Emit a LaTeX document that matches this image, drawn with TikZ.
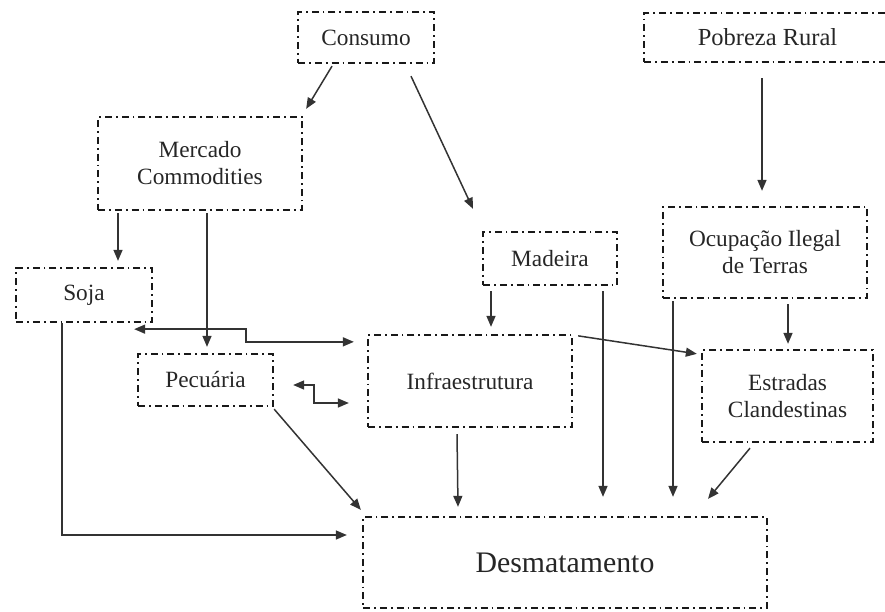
\documentclass[tikz,border=0pt]{standalone}
\usepackage{fontspec}
\setmainfont{Liberation Serif}
\usetikzlibrary{arrows.meta,calc}
\definecolor{txt}{HTML}{262626}
\definecolor{ln}{HTML}{333333}
\tikzset{
  boxnode/.style={draw=black!90, line width=2.3pt,
    dash pattern=on 7pt off 4pt on 1.8pt off 4pt,
    inner sep=0pt, align=center, text=txt,
    font=\fontsize{23.3}{27}\selectfont},
  arr/.style={draw=ln, line width=1.5pt, -{Triangle[length=11pt,width=9pt]}},
  arrtwo/.style={draw=ln, line width=1.5pt, {Triangle[length=11pt,width=9pt]}-{Triangle[length=11pt,width=9pt]}}
}
\begin{document}
\begin{tikzpicture}[x=1pt,y=-1pt]
\useasboundingbox (0,0) rectangle (885,612);
\node[boxnode, minimum width=136pt, minimum height=51pt] (cons) at (366,37.5) {Consumo};
\node[boxnode, minimum width=247pt, minimum height=49pt, font=\fontsize{24.5}{28}\selectfont] (pob) at (767.5,37.5) {Pobreza Rural};
\node[boxnode, minimum width=204pt, minimum height=93pt] (merc) at (200,163.5) {Mercado\\Commodities};
\node[boxnode, minimum width=136pt, minimum height=54pt] (soja) at (84,295) {Soja};
\node[boxnode, minimum width=135pt, minimum height=52pt] (pec) at (205.5,380) {Pecuária};
\node[boxnode, minimum width=134pt, minimum height=53pt] (mad) at (550,258.5) {Madeira};
\node[boxnode, minimum width=204pt, minimum height=91pt] (ocu) at (765,252.5) {Ocupação Ilegal\\de Terras};
\node[boxnode, minimum width=204pt, minimum height=92pt] (inf) at (470,381) {Infraestrutura};
\node[boxnode, minimum width=171pt, minimum height=92pt] (est) at (787.5,396) {Estradas\\Clandestinas};
\node[boxnode, minimum width=404pt, minimum height=91pt, font=\fontsize{29.8}{34}\selectfont] (des) at (565,562.5) {Desmatamento};

% connectors
\draw[arr] ([shift={(-34pt,-2pt)}]cons.south) -- ([shift={(3pt,7pt)}]merc.north east);
\draw[arr] ([shift={(45pt,-12pt)}]cons.south) -- ([shift={(-77pt,22pt)}]mad.north);
\draw[arr] ([shift={(-5.5pt,-15pt)}]pob.south) -- ([shift={(-3pt,15pt)}]ocu.north);
\draw[arr] ([shift={(-82pt,-2pt)}]merc.south) -- ([shift={(34pt,6pt)}]soja.north);
\draw[arr] ([shift={(7pt,-2pt)}]merc.south) -- ([shift={(1.5pt,6pt)}]pec.north);
\draw[arr] ([shift={(-22pt,0pt)}]soja.south) |- ([shift={(-15pt,27.5pt)}]des.west);
\draw[arrtwo] ([shift={(-19pt,-6pt)}]soja.south east) -- ++(112,0) |- ([shift={(-13pt,-8pt)}]inf.north west);
\draw[arrtwo] ([shift={(19pt,-5pt)}]pec.east) -- ++(21,0) |- ([shift={(-18pt,-22pt)}]inf.west);
\draw[arr] ([shift={(-59pt,-5pt)}]mad.south) -- ([shift={(21pt,7pt)}]inf.north);
\draw[arr] ([shift={(53pt,-5pt)}]mad.south) -- ([shift={(38pt,19pt)}]des.north);
\draw[arr] ([shift={(-92pt,-2pt)}]ocu.south) -- ([shift={(108pt,19pt)}]des.north);
\draw[arr] ([shift={(23pt,-5pt)}]ocu.south) -- ([shift={(0.5pt,5pt)}]est.north);
\draw[arr] ([shift={(5pt,-2pt)}]inf.north east) -- ([shift={(-4pt,-5pt)}]est.north west);
\draw[arr] ([shift={(-37.5pt,-5pt)}]est.south) -- ([shift={(143pt,17pt)}]des.north);
\draw[arr] ([shift={(-13pt,-6pt)}]inf.south) -- ([shift={(-107pt,9pt)}]des.north);
\draw[arr] ([shift={(0pt,-2pt)}]pec.south east) -- ([shift={(-1pt,6pt)}]des.north west);
\end{tikzpicture}
\end{document}
